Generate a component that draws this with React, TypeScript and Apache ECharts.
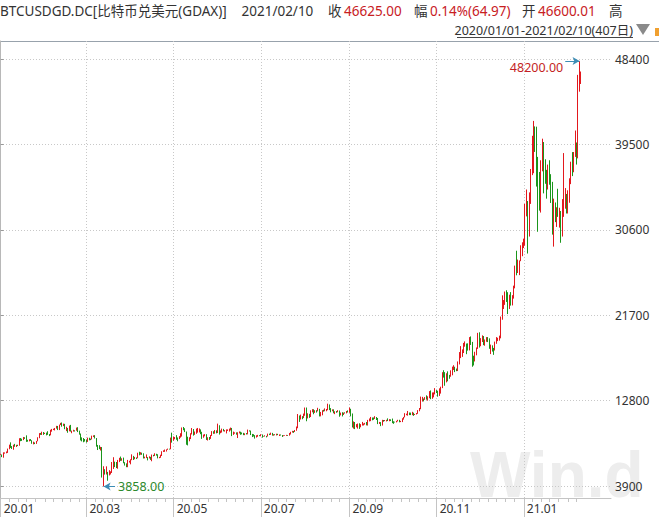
import React, { useEffect, useRef } from 'react';
import * as echarts from 'echarts';

// Daily candles, each [open, close, low, high]
const btc2020Jan = [
  [7165,7175,7150,7255],[7175,6945,6910,7185],[6945,7340,6850,7410],[7340,7350,7270,7400],[7350,7355,7310,7500],[7355,7760,7350,7800],[7760,8150,7730,8210],[8150,8050,7870,8450],[8050,7820,7760,8060],[7820,8190,7680,8200],
  [8190,8020,7990,8290],[8020,8180,7970,8190],[8180,8110,8060,8200],[8110,8810,8100,8880],[8810,8800,8570,8900],[8800,8710,8600,8830],[8710,8900,8680,9010],[8900,8890,8810,8980],[8890,8700,8500,9180],[8700,8630,8520,8720],
  [8630,8740,8550,8770],[8740,8660,8600,8790],[8660,8390,8300,8670],[8390,8430,8240,8520],[8430,8330,8270,8440],[8330,8590,8290,8600],[8590,8900,8560,8980],[8900,9380,8880,9410],[9380,9300,9230,9430],[9300,9510,9220,9560],[9510,9350,9230,9530],
];
const btc2020Feb = [
  [9350,9380,9320,9450],[9380,9330,9180,9470],[9330,9290,9230,9610],[9290,9180,9100,9320],[9180,9610,9180,9760],[9610,9760,9560,9850],[9760,9800,9730,9870],[9800,9900,9690,9950],[9900,10160,9880,10170],[10160,9850,9730,10160],
  [9850,10270,9730,10300],[10270,10360,10250,10480],[10360,10240,10080,10520],[10240,10370,10140,10400],[10370,9900,9820,10380],[9900,9930,9620,10070],[9930,9700,9450,9950],[9700,10180,9600,10200],[10180,9600,9570,10270],[9600,9610,9400,9670],
  [9610,9690,9570,9760],[9690,9670,9580,9710],[9670,9970,9660,9990],[9970,9660,9520,10030],[9660,9310,9250,9670],[9310,8790,8650,9370],[8790,8780,8550,8970],[8780,8680,8460,8900],[8680,8540,8530,8800],
];
const btc2020Mar = [
  [8540,8530,8420,8750],[8530,8920,8500,8940],[8920,8760,8660,8930],[8760,8750,8680,8840],[8750,9070,8750,9150],[9070,9150,9000,9180],[9150,8900,8850,9200],[8900,8030,8000,8900],[8030,7930,7650,8180],[7930,7890,7740,8150],
  [7890,7940,7600,7980],[7940,4860,4780,7960],[4860,5620,3858,5960],[5620,5170,5090,5650],[5170,5360,5100,5950],[5360,5030,4450,5370],[5030,5330,5000,5550],[5330,5410,5100,5430],[5410,6190,5260,6400],[6190,6200,5680,6900],
  [6200,6190,5870,6440],[6190,5820,5770,6400],[5820,6490,5700,6620],[6490,6770,6390,6840],[6770,6690,6520,6970],[6690,6760,6530,6790],[6760,6370,6270,6860],[6370,6250,6030,6380],[6250,5880,5860,6260],[5880,6400,5860,6620],[6400,6420,6340,6530],
];
const btc2020Apr = [
  [6420,6640,6160,6690],[6640,6810,6590,7200],[6810,6740,6610,7040],[6740,6860,6690,6930],[6860,6790,6710,6880],[6790,7290,6790,7370],[7290,7200,7100,7470],[7200,7370,7160,7420],[7370,7300,7150,7380],[7300,6870,6770,7310],
  [6870,6890,6780,6960],[6890,6910,6810,7190],[6910,6850,6570,6910],[6850,6860,6770,6990],[6860,6630,6620,6940],[6630,7110,6480,7180],[7110,7030,6990,7150],[7030,7250,7030,7310],[7250,7120,7060,7260],[7120,6840,6780,7210],
  [6840,6860,6800,6940],[6860,7130,6840,7160],[7130,7490,7030,7520],[7490,7510,7450,7620],[7510,7540,7460,7700],[7540,7700,7490,7720],[7700,7780,7670,7800],[7780,7760,7700,7790],[7760,8790,7730,8950],[8790,8630,8420,9460],
];
const btc2020May = [
  [8630,8830,8620,9060],[8830,8970,8770,9000],[8970,8900,8720,9200],[8900,8890,8560,8960],[8890,9030,8790,9100],[9030,9150,8940,9400],[9150,9990,9050,10000],[9990,9810,9710,10050],[9810,9540,9520,9920],[9540,8720,8200,9580],
  [8720,8570,8130,9040],[8570,8820,8560,8980],[8820,9320,8790,9400],[9320,9790,9270,9940],[9790,9310,9150,9840],[9310,9380,9230,9580],[9380,9670,9340,9880],[9670,9730,9460,9950],[9730,9780,9480,9900],[9780,9510,9300,9800],
  [9510,9060,8810,9550],[9060,9170,8930,9260],[9170,9180,9080,9310],[9180,8720,8700,9300],[8720,8900,8640,8980],[8900,8840,8700,9010],[8840,9200,8810,9220],[9200,9580,9120,9620],[9580,9430,9340,9610],[9430,9700,9350,9740],[9700,9450,9390,9700],
];
const btc2020Jun = [
  [9450,10200,9420,10400],[10200,9520,9260,10230],[9520,9670,9400,9690],[9670,9800,9470,9880],[9800,9660,9600,9850],[9660,9680,9570,9730],[9680,9760,9380,9800],[9760,9780,9640,9800],[9780,9790,9570,9880],[9790,9890,9690,9990],
  [9890,9280,9100,9950],[9280,9470,9230,9570],[9470,9480,9350,9490],[9480,9390,9250,9490],[9390,9450,8900,9500],[9450,9520,9380,9590],[9520,9460,9240,9560],[9460,9380,9280,9480],[9380,9300,9200,9440],[9300,9360,9200,9390],
  [9360,9290,9270,9420],[9290,9690,9280,9780],[9690,9630,9580,9700],[9630,9290,9210,9680],[9290,9260,9000,9330],[9260,9160,9060,9300],[9160,9010,8840,9200],[9010,9120,8950,9190],[9120,9190,9030,9230],[9190,9140,9090,9200],
];
const btc2020Jul = [
  [9140,9230,9080,9300],[9230,9090,8940,9270],[9090,9060,9050,9120],[9060,9130,9050,9190],[9130,9080,8970,9130],[9080,9340,9060,9360],[9340,9250,9210,9360],[9250,9430,9230,9460],[9430,9240,9150,9440],[9240,9290,9140,9300],
  [9290,9240,9190,9300],[9240,9300,9170,9350],[9300,9240,9200,9340],[9240,9250,9110,9280],[9250,9190,9160,9270],[9190,9130,9010,9210],[9130,9160,9090,9190],[9160,9170,9130,9200],[9170,9210,9120,9230],[9210,9160,9130,9220],
  [9160,9390,9150,9430],[9390,9540,9270,9550],[9540,9610,9470,9650],[9610,9550,9440,9640],[9550,9710,9530,9740],[9710,9950,9660,10100],[9950,11040,9920,11400],[11040,10950,10580,11250],[10950,11110,10830,11340],[11110,11100,10860,11180],[11100,11350,10980,11450],
];
const btc2020Aug = [
  [11350,11810,11220,12080],[11810,11070,10650,12080],[11070,11230,10940,11480],[11230,11190,11000,11420],[11190,11750,11090,11790],[11750,11780,11580,11910],[11780,11600,11380,11900],[11600,11770,11520,11800],[11770,11680,11550,11800],[11680,11900,11680,12050],
  [11900,11390,11150,11940],[11390,11570,11160,11620],[11570,11780,11270,11800],[11780,11770,11650,11850],[11770,11870,11690,11990],[11870,11920,11690,11930],[11920,12300,11800,12480],[12300,11960,11810,12400],[11960,11760,11580,12020],[11760,11870,11690,11890],
  [11870,11520,11480,11890],[11520,11680,11390,11690],[11680,11650,11530,11710],[11650,11760,11590,11800],[11760,11330,11120,11770],[11330,11470,11260,11550],[11470,11330,11150,11590],[11330,11540,11300,11550],[11540,11480,11450,11580],[11480,11710,11470,11720],[11710,11660,11560,11780],
];
const btc2020Sep = [
  [11660,11920,11530,12080],[11920,11400,11160,11950],[11400,10170,10000,11460],[10170,10460,9880,10630],[10460,10170,9830,10570],[10170,10260,10020,10350],[10260,10380,9880,10410],[10380,10130,9850,10440],[10130,10230,10020,10350],[10230,10350,10200,10580],
  [10350,10400,10210,10420],[10400,10440,10300,10480],[10440,10330,10220,10570],[10330,10680,10200,10790],[10680,10790,10630,10940],[10790,10960,10660,11100],[10960,10950,10750,11040],[10950,10940,10800,11040],[10940,11090,10890,11180],[11090,10920,10780,11090],
  [10920,10420,10350,10990],[10420,10540,10370,10580],[10540,10240,10140,10560],[10240,10740,10200,10800],[10740,10700,10600,10780],[10700,10730,10660,10780],[10730,10780,10630,10800],[10780,10700,10670,10950],[10700,10840,10650,10870],[10840,10780,10670,10850],
];
const btc2020Oct = [
  [10780,10620,10450,10930],[10620,10570,10380,10650],[10570,10550,10520,10600],[10550,10670,10530,10690],[10670,10790,10630,10800],[10790,10600,10540,10800],[10600,10670,10560,10690],[10670,10920,10560,10960],[10920,11060,10820,11100],[11060,11300,11050,11490],
  [11300,11370,11280,11440],[11370,11540,11230,11720],[11540,11430,11290,11560],[11430,11420,11290,11550],[11420,11500,11280,11630],[11500,11320,11210,11540],[11320,11370,11300,11410],[11370,11500,11350,11510],[11500,11750,11420,11810],[11750,11910,11690,12030],
  [11910,12820,11900,13220],[12820,12980,12700,13190],[12980,12930,12720,13020],[12930,13110,12880,13170],[13110,13030,12900,13350],[13030,13070,12800,13250],[13070,13650,13050,13790],[13650,13280,12950,13860],[13280,13460,12990,13650],[13460,13560,13140,13660],[13560,13800,13450,14100],
];
const btc2020Nov = [
  [13800,13760,13600,13900],[13760,13550,13210,13830],[13550,14030,13290,14080],[14030,14150,13530,14250],[14150,15590,14100,15760],[15590,15580,15200,15970],[15580,14840,14350,15770],[14840,15480,14700,15650],[15480,15330,14810,15850],[15330,15310,15080,15480],
  [15310,15700,15290,15960],[15700,16290,15440,16340],[16290,16330,15990,16490],[16330,16080,15770,16330],[16080,15960,15870,16140],[15960,16720,15880,16880],[16720,17660,16570,17860],[17660,17800,17230,18480],[17800,17820,17360,18140],[17820,18680,17760,18810],
  [18680,18720,18420,18970],[18720,18440,17640,18750],[18440,18370,18010,18770],[18370,19160,18030,19420],[19160,18740,18600,19490],[18740,17150,16330,18920],[17150,17140,16460,17480],[17140,17720,16880,17890],[17720,18190,17520,18340],[18190,19700,18190,19860],
];
const btc2020Dec = [
  [19700,18770,18330,19920],[18770,19210,18470,19310],[19210,19430,18910,19600],[19430,18660,18580,19530],[18660,19150,18520,19170],[19150,19360,18930,19420],[19360,19170,18900,19420],[19170,18320,18200,19290],[18320,18550,17650,18640],[18550,18250,17910,18560],
  [18250,18040,17570,18290],[18040,18810,18020,18950],[18810,19170,18720,19420],[19170,19270,19000,19350],[19270,19440,19050,19570],[19440,21350,19290,21560],[21350,22800,21230,23770],[22800,23140,22350,23280],[23140,23860,22780,24170],[23860,23470,23080,24300],
  [23470,22720,21820,24100],[22720,23820,22350,23840],[23820,23250,22700,24110],[23250,23720,22720,23790],[23720,24690,23430,24780],[24690,26440,24500,26870],[26440,26250,25860,28420],[26250,27040,26100,27500],[27040,27370,25880,27410],[27370,28860,27330,28990],[28860,28990,27850,29300],
];
const btc2021Jan = [
  [28990,29390,28700,29680],[29390,32200,28950,33300],[32200,33000,32000,34800],[33000,31990,28130,33600],[31990,34030,29900,34500],[34030,36820,33300,36940],[36820,39410,36300,40400],[39410,40630,36500,41950],[40630,40150,38720,41380],[40150,38200,35110,41350],
  [38200,35540,30400,38200],[35540,33960,32600,36630],[33960,37390,32400,37850],[37390,39190,36700,40100],[39190,36830,34400,39750],[36830,36020,35400,37950],[36020,35820,33850,36850],[35820,36630,34800,37400],[36630,35910,35300,37850],[35910,35470,33400,36400],
  [35470,30830,30100,35600],[30830,33010,28850,33850],[33010,32090,31400,33450],[32090,32280,30900,32950],[32280,32260,31950,34880],[32260,32500,30830,32900],[32500,30420,29250,32560],[30420,33400,29900,33800],[33400,34270,31950,38600],[34270,34320,32800,34950],[34320,33110,32300,34340],
];
const btc2021Feb = [
  [33110,33520,32300,34720],[33520,35510,33420,35970],[35510,37670,35360,37700],[37670,36930,36200,38700],[36930,38290,36600,38710],[38290,39260,38200,40950],[39260,38900,37400,39700],[38900,46400,38050,46750],[46400,46560,45000,48200],[46600.01,46625,45800,47100],
];

const dailyOhlc = [
  ...btc2020Jan, ...btc2020Feb, ...btc2020Mar, ...btc2020Apr, ...btc2020May, ...btc2020Jun, ...btc2020Jul,
  ...btc2020Aug, ...btc2020Sep, ...btc2020Oct, ...btc2020Nov, ...btc2020Dec, ...btc2021Jan, ...btc2021Feb,
];

const firstDay = '2020-01-01';
const dates = dailyOhlc.map((_, i) =>
  new Date(Date.parse(firstDay + 'T00:00:00Z') + i * 86400000).toISOString().slice(0, 10)
);

const xMajorDates = ['2020-01-01', '2020-03-01', '2020-05-01', '2020-07-01', '2020-09-01', '2020-11-01', '2021-01-01'];
const xMajorLabels = ['20.01', '20.03', '20.05', '20.07', '20.09', '20.11', '21.01'];
const xMinorDays = [1, 7, 13, 19, 25];
const yTickValues = [3900, 12800, 21700, 30600, 39500, 48400];

const quoteTitle = 'BTCUSDGD.DC[比特币兑美元(GDAX)]';
const quoteDate = '2021/02/10';
const quoteClose = '46625.00';
const quoteChange = '0.14%(64.97)';
const quoteOpen = '46600.01';
const rangeText = '2020/01/01-2021/02/10(407日)';

const UP = '#e3181d';
const DOWN = '#1b951b';
const FONT = "'Noto Sans', 'Noto Sans CJK SC', sans-serif";

export default function App() {
  const ref = useRef<HTMLDivElement>(null);
  useEffect(() => {
    document.body.style.margin = '0';
    const chart = echarts.init(ref.current!, null, { renderer: 'svg' });

    const rows = dailyOhlc.map((d, i) => [i, d[0], d[1], d[2], d[3]]);
    const majorIdx = xMajorDates.map((d) => dates.indexOf(d));
    const labelByIdx: Record<number, string> = {};
    majorIdx.forEach((ix, k) => (labelByIdx[ix] = xMajorLabels[k]));
    const minorIdx: number[] = [];
    dates.forEach((d, i) => {
      if (xMinorDays.indexOf(Number(d.slice(8, 10))) >= 0) minorIdx.push(i);
    });

    let hiIdx = 0, loIdx = 0;
    dailyOhlc.forEach((d, i) => {
      if (d[3] > dailyOhlc[hiIdx][3]) hiIdx = i;
      if (d[2] < dailyOhlc[loIdx][2]) loIdx = i;
    });
    const hiVal = dailyOhlc[hiIdx][3];
    const loVal = dailyOhlc[loIdx][2];

    const xMin = -0.49;
    const xMax = 427;

    const headerText = (text: string, x: number, color: string) => ({
      type: 'text', x, y: 10.5, silent: true,
      style: { text, fill: color, fontSize: 13.5, fontFamily: FONT, verticalAlign: 'middle', align: 'left' },
    });

    const option: any = {
      animation: false,
      grid: { left: -2.3, right: 48, top: 41, bottom: 19, containLabel: false },
      xAxis: [
        {
          type: 'value', position: 'bottom', min: xMin, max: xMax,
          axisLine: { show: true, lineStyle: { color: '#c4c4c4', width: 1 } },
          axisTick: { show: true, customValues: minorIdx, length: 4, lineStyle: { color: '#c4c4c4' } },
          axisLabel: { show: false },
          splitLine: { show: false },
        },
        {
          type: 'value', position: 'bottom', min: xMin, max: xMax,
          axisLine: { show: false },
          axisTick: { show: true, customValues: majorIdx, length: 19, lineStyle: { color: '#c4c4c4' } },
          axisLabel: {
            show: true, customValues: majorIdx, margin: 4, align: 'left', padding: [0, 0, 0, 3],
            color: '#333', fontSize: 12, fontFamily: FONT,
            formatter: (v: number) => labelByIdx[Math.round(v)] || '',
          },
          splitLine: { show: true, lineStyle: { color: '#c8c8c8', type: [1, 2], width: 1 } },
        },
      ],
      yAxis: {
        type: 'value', position: 'right', min: 2650, max: 50280,
        axisLine: { show: true, lineStyle: { color: '#b8b8b8', width: 1 } },
        axisTick: { show: true, customValues: yTickValues, length: 3, lineStyle: { color: '#999' } },
        axisLabel: {
          show: true, customValues: yTickValues, margin: 4, color: '#333', fontSize: 12, fontFamily: FONT,
          formatter: (v: number) => String(Math.round(v)),
        },
        splitLine: { show: true, lineStyle: { color: '#c8c8c8', type: [1, 2], width: 1 } },
      },
      series: [
        {
          type: 'candlestick',
          xAxisIndex: 0,
          data: rows,
          dimensions: ['idx', 'open', 'close', 'lowest', 'highest'],
          encode: { x: 0, y: [1, 2, 3, 4] },
          barWidth: 1,
          itemStyle: { color: UP, color0: DOWN, borderColor: UP, borderColor0: DOWN, borderColorDoji: UP, borderWidth: 1 },
          markLine: {
            silent: true,
            animation: false,
            symbol: ['none', 'arrow'],
            symbolSize: [6, 7],
            lineStyle: { color: '#3d8db5', width: 1, type: 'solid' },
            data: [
              [
                {
                  coord: [hiIdx - 10, hiVal],
                  label: {
                    show: true, position: 'start', distance: 2, verticalAlign: 'top',
                    formatter: () => hiVal.toFixed(2), color: '#c41f24', fontSize: 12.5, fontFamily: FONT,
                  },
                },
                { coord: [hiIdx, hiVal] },
              ],
              [
                {
                  coord: [loIdx + 8, loVal],
                  label: {
                    show: true, position: 'start', distance: 3,
                    formatter: () => loVal.toFixed(2), color: '#2d8a2d', fontSize: 12.5, fontFamily: FONT,
                  },
                },
                { coord: [loIdx, loVal] },
              ],
            ],
          },
        },
      ],
      graphic: [
        {
          type: 'text', x: 470, y: 475, z: -10, silent: true,
          style: { text: 'Win.d', fill: '#ededed', fontSize: 64, fontWeight: 'bold', fontFamily: "'Liberation Sans', sans-serif", verticalAlign: 'middle' },
        },
        { type: 'line', silent: true, shape: { x1: 0, y1: 41.5, x2: 659, y2: 41.5 }, style: { stroke: '#98a2ac', lineWidth: 1 } },
        headerText(quoteTitle, 0, '#333'),
        headerText(quoteDate, 241.5, '#333'),
        headerText('收', 328, '#333'),
        headerText(quoteClose, 344, '#c8201f'),
        headerText('幅', 414, '#333'),
        headerText(quoteChange, 430, '#c8201f'),
        headerText('开', 522, '#333'),
        headerText(quoteOpen, 538, '#c8201f'),
        headerText('高', 609, '#333'),
        {
          type: 'text', x: 633, y: 30.5, silent: true,
          style: { text: rangeText, fill: '#333', fontSize: 12.5, fontFamily: FONT, verticalAlign: 'middle', align: 'right' },
        },
        { type: 'line', silent: true, shape: { x1: 457, y1: 37.5, x2: 633, y2: 37.5 }, style: { stroke: '#444', lineWidth: 1 } },
        { type: 'polygon', silent: true, shape: { points: [[636, 24], [650, 24], [643, 35]] }, style: { fill: '#8a8a8a' } },
        { type: 'rect', silent: true, shape: { x: 655, y: 28, width: 6, height: 8 }, style: { fill: '#f0a030' } },
      ],
    };

    chart.setOption(option);
    return () => chart.dispose();
  }, []);
  return <div ref={ref} style={{ width: 659, height: 517 }} />;
}
